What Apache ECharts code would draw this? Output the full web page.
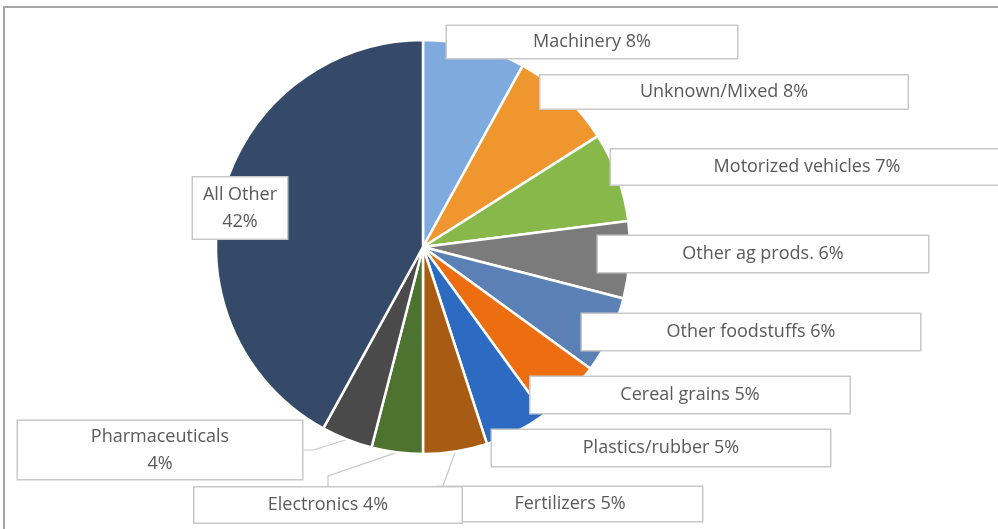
<!DOCTYPE html>
<html>
<head>
<meta charset="utf-8">
<script src="https://cdn.jsdelivr.net/npm/echarts@6/dist/echarts.min.js"></script>
<style>
  html, body { margin: 0; padding: 0; background: #fff; }
  #chart { width: 998px; height: 529px; }
</style>
</head>
<body>
<div id="chart"></div>
<script>
// Commodity shares (percent), clockwise from 12 o'clock
const categories = ['Machinery', 'Unknown/Mixed', 'Motorized vehicles', 'Other ag prods.',
  'Other foodstuffs', 'Cereal grains', 'Plastics/rubber', 'Fertilizers',
  'Electronics', 'Pharmaceuticals', 'All Other'];
const shares = [8, 8, 7, 6, 6, 5, 5, 5, 4, 4, 42];
const sliceColors = ['#7FAADD', '#F0962E', '#88B84A', '#7B7B7B', '#5A80B5', '#EC6E10',
  '#2D6BC2', '#A85B13', '#4E7331', '#4A4A4A', '#344A68'];

// Callout boxes: centre x/y, width, height, number of text lines, leader line shown
const callouts = [
  { cx: 592, cy: 42, w: 290, h: 32, lines: 1, leader: false },
  { cx: 724, cy: 92, w: 367, h: 33, lines: 1, leader: false },
  { cx: 807, cy: 167, w: 392, h: 35, lines: 1, leader: false },
  { cx: 763, cy: 254, w: 330, h: 36, lines: 1, leader: false },
  { cx: 751, cy: 332, w: 338, h: 36, lines: 1, leader: false },
  { cx: 690, cy: 395, w: 319, h: 36, lines: 1, leader: false },
  { cx: 661, cy: 448, w: 338, h: 36, lines: 1, leader: false },
  { cx: 570, cy: 504, w: 264, h: 34, lines: 1, leader: true },
  { cx: 328, cy: 505, w: 267, h: 35, lines: 1, leader: true },
  { cx: 160, cy: 450, w: 284, h: 58, lines: 2, leader: true },
  { cx: 240, cy: 208, w: 94, h: 61, lines: 2, leader: false }
];

const data = categories.map(function (name, i) {
  const c = callouts[i];
  const lh = c.lines === 2 ? 27 : 22;
  const vp = Math.max(0, (c.h - c.lines * lh) / 2);
  return {
    name: name,
    value: shares[i],
    itemStyle: { color: sliceColors[i] },
    label: {
      width: c.w,
      lineHeight: lh,
      padding: [vp, 0, vp, 0],
      formatter: c.lines === 2 ? '{b}\n{c}%' : '{b} {c}%'
    },
    labelLine: { show: c.leader }
  };
});

const chart = echarts.init(document.getElementById('chart'));
chart.setOption({
  animation: false,
  backgroundColor: '#ffffff',
  graphic: [{
    type: 'rect',
    shape: { x: 4, y: 7, width: 1100, height: 600 },
    style: { fill: 'none', stroke: '#a6a6a6', lineWidth: 2 },
    silent: true,
    z: -1
  }],
  series: [{
    type: 'pie',
    center: [423, 247],
    radius: 207,
    startAngle: 90,
    clockwise: true,
    avoidLabelOverlap: false,
    itemStyle: { borderColor: '#ffffff', borderWidth: 2.5 },
    label: {
      show: true,
      position: 'outside',
      color: '#595959',
      fontFamily: 'Open Sans',
      fontSize: 18,
      align: 'center',
      backgroundColor: '#ffffff',
      borderColor: '#c8c8c8',
      borderWidth: 1.5
    },
    labelLine: {
      length: 10,
      length2: 10,
      lineStyle: { color: '#c8c8c8', width: 1.2 }
    },
    labelLayout: function (params) {
      const c = callouts[params.dataIndex];
      return { x: c.cx, y: c.cy, align: 'center', verticalAlign: 'middle' };
    },
    data: data
  }]
});
</script>
</body>
</html>
